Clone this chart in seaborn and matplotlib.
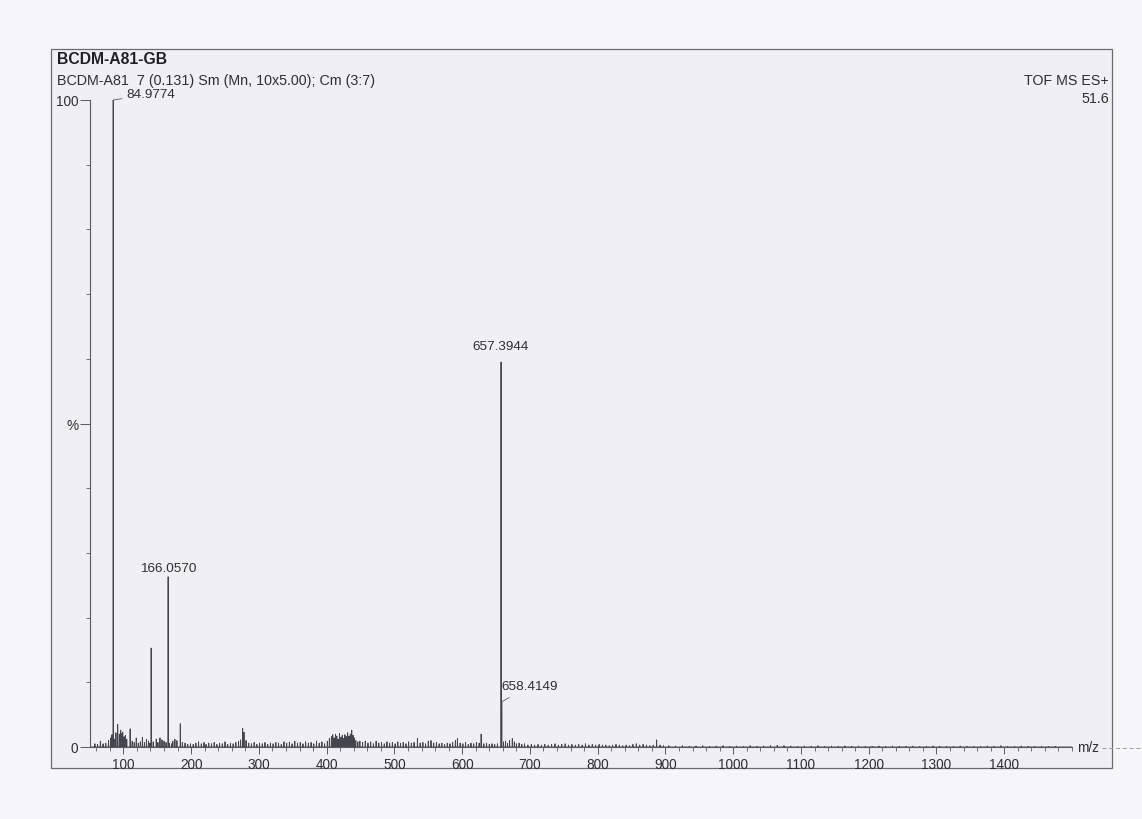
import matplotlib
matplotlib.use("Agg")
import matplotlib.pyplot as plt
from matplotlib.patches import Rectangle
from matplotlib.lines import Line2D
from matplotlib.ticker import MultipleLocator, FixedLocator
import numpy as np
import pandas as pd
import seaborn as sns

# ---- spectrum data (m/z, relative intensity %) ----
main_mz = [84.9774, 141.0, 166.0570, 657.3944, 658.4149]
main_pct = [100.0, 15.3, 26.3, 59.5, 7.0]

noise_mz = [
    58, 62, 66, 70, 74, 78, 81, 83, 87, 89, 91.6, 94, 96, 97.5, 99, 101, 103, 105,
    110, 113, 116, 119, 122, 125, 128, 131, 134, 137, 139, 144, 148.5, 151, 154,
    157, 160, 163, 168, 171, 173, 176, 179, 184, 187, 191, 195, 199,
    203, 207, 211, 215, 219, 222, 226, 230, 234, 238, 242, 246, 250, 254, 258,
    262, 266, 270, 273, 276, 278, 281, 285, 289, 293, 297, 301, 305, 309, 313,
    317, 321, 325, 329, 333, 337, 341, 345, 349, 353, 357, 361, 365, 369, 373,
    377, 381, 385, 389, 393, 397, 401,
    404, 407, 409, 411, 413, 415, 417, 419, 421, 423, 425, 427, 429, 431, 433,
    435, 437, 439, 441, 443, 446,
    449, 453, 457, 461, 465, 469, 473, 477, 481, 485, 489, 493, 497, 501, 505,
    509, 513, 517, 521, 525, 529, 534, 538, 542, 546, 550, 554, 558, 562, 566,
    570, 574, 578, 582, 586, 590, 593, 597, 601, 605, 609, 613, 617, 621, 625,
    628, 632, 636, 640, 644, 648, 652,
    661, 664, 667, 670, 674, 677, 680, 684, 688, 692, 697, 702, 707, 712, 717,
    722, 727, 732, 737, 742, 747, 752, 757, 762, 767, 772, 777, 782, 787, 792,
    797, 802, 807, 812, 817, 822, 827, 832, 837, 842, 847, 852, 857, 862, 867,
    872, 877, 882, 887, 892, 897,
    905, 915, 925, 935, 945, 955, 965, 975, 985, 995, 1005, 1015, 1025, 1035,
    1045, 1055, 1065, 1075, 1085, 1095, 1105, 1115, 1125, 1135, 1145, 1155,
    1165, 1175, 1185, 1195, 1205, 1215, 1225, 1235, 1245, 1255, 1265, 1275,
    1285, 1295, 1305, 1315, 1325, 1335, 1345, 1355, 1365, 1375, 1385, 1395,
    1405, 1415, 1425, 1435, 1445, 1455, 1465, 1475,
]
noise_pct = [
    0.5, 0.4, 0.9, 0.5, 0.6, 1.0, 1.4, 1.9, 1.2, 2.2, 3.5, 2.0, 2.6, 2.1, 2.3, 1.6, 1.8, 1.2,
    2.8, 0.9, 0.7, 1.4, 0.6, 0.8, 1.5, 0.7, 1.2, 0.9, 0.6, 0.8, 1.2, 0.7, 1.4,
    1.1, 0.9, 0.7, 0.6, 0.5, 0.9, 1.2, 1.0, 3.6, 0.7, 0.6, 0.4, 0.5,
    0.4, 0.6, 0.8, 0.5, 0.7, 0.4, 0.6, 0.5, 0.7, 0.4, 0.6, 0.5, 0.8, 0.4, 0.6,
    0.5, 0.7, 0.9, 1.1, 2.9, 2.3, 1.0, 0.6, 0.5, 0.7, 0.4, 0.6, 0.5, 0.7, 0.4,
    0.6, 0.5, 0.7, 0.6, 0.4, 0.8, 0.6, 0.7, 0.5, 0.9, 0.6, 0.7, 0.5, 0.8, 0.6,
    0.7, 0.5, 0.9, 0.6, 0.8, 0.5, 0.9,
    1.3, 1.6, 1.9, 1.4, 2.0, 1.7, 1.2, 2.1, 1.5, 1.8, 1.3, 1.9, 1.6, 2.2, 1.7,
    2.0, 2.6, 1.8, 1.4, 1.0, 0.8,
    0.9, 0.7, 0.9, 0.6, 0.8, 0.5, 0.9, 0.6, 0.7, 0.5, 0.8, 0.6, 0.7, 0.5, 0.8,
    0.6, 0.7, 0.5, 0.8, 0.6, 0.7, 1.3, 0.6, 0.7, 0.5, 0.9, 1.0, 0.6, 0.7, 0.5,
    0.6, 0.4, 0.6, 0.5, 0.7, 1.0, 1.3, 0.6, 0.5, 0.7, 0.4, 0.6, 0.5, 0.7, 0.6,
    2.0, 0.5, 0.6, 0.4, 0.5, 0.4, 0.5,
    0.8, 0.9, 0.6, 1.0, 1.3, 0.8, 0.5, 0.6, 0.4, 0.5, 0.3, 0.4, 0.3, 0.4, 0.3,
    0.4, 0.3, 0.4, 0.5, 0.3, 0.4, 0.5, 0.3, 0.4, 0.3, 0.4, 0.3, 0.5, 0.3, 0.4,
    0.3, 0.4, 0.3, 0.3, 0.2, 0.3, 0.4, 0.3, 0.2, 0.3, 0.2, 0.4, 0.5, 0.3, 0.4,
    0.3, 0.2, 0.3, 1.1, 0.3, 0.2,
    0.2, 0.15, 0.2, 0.1, 0.15, 0.2, 0.1, 0.15, 0.2, 0.1, 0.15, 0.1, 0.2, 0.1,
    0.15, 0.2, 0.25, 0.2, 0.15, 0.1, 0.15, 0.1, 0.2, 0.1, 0.15, 0.1,
    0.15, 0.1, 0.15, 0.1, 0.1, 0.15, 0.1, 0.15, 0.1, 0.1, 0.15, 0.1,
    0.1, 0.15, 0.1, 0.1, 0.1, 0.15, 0.1, 0.1, 0.1, 0.15, 0.1, 0.2,
    0.1, 0.1, 0.15, 0.1, 0.1, 0.1, 0.1, 0.1,
]

x_major = [100, 200, 300, 400, 500, 600, 700, 800, 900, 1000, 1100, 1200, 1300, 1400]
x_range = (50, 1500)

title_text = "BCDM-A81-GB"
subtitle_text = "BCDM-A81  7 (0.131) Sm (Mn, 10x5.00); Cm (3:7)"
mode_text = "TOF MS ES+"
scale_text = "51.6"

# ---- build a stick/profile trace from the peak list ----
peaks = pd.DataFrame({"mz": main_mz + noise_mz, "pct": main_pct + noise_pct})
peaks = peaks.sort_values("mz").reset_index(drop=True)
half = 0.3
rows = [(x_range[0], 0.0)]
for m, p in zip(peaks["mz"], peaks["pct"]):
    rows += [(m - half, 0.0), (m, p), (m + half, 0.0)]
rows.append((x_range[1], 0.0))
trace = pd.DataFrame(rows, columns=["mz", "pct"])

# ---- styling ----
sns.set_theme(style="white")
plt.rcParams["font.family"] = ["Liberation Sans", "DejaVu Sans"]
ink = "#45454d"
axis_ink = "#5a5a62"
text_ink = "#2e2e36"

W, H = 1142, 820
fig = plt.figure(figsize=(W / 100, H / 100), dpi=100, facecolor="#f6f6f9")

def fx(px):
    return px / W

def fy(py):
    return 1 - py / H

# page frame around the spectrum (kept behind the axes)
fig.patches.append(Rectangle((fx(51), fy(769)), fx(1112) - fx(51), fy(50) - fy(769),
                             transform=fig.transFigure, facecolor="#efeff5",
                             edgecolor="#6a6a72", linewidth=0.9, zorder=-5))
# faint ruled continuation of the baseline beyond the axis caption
fig.lines.append(Line2D([fx(1102), fx(1142)], [fy(749), fy(749)],
                        transform=fig.transFigure, color="#9a9aa2",
                        linewidth=0.7, linestyle=(0, (4, 3)), zorder=-4))

ax = fig.add_axes([fx(89.5), fy(748), fx(1072) - fx(89.5), fy(101) - fy(748)])
ax.set_facecolor("none")
ax.set_zorder(2)

sns.lineplot(data=trace, x="mz", y="pct", estimator=None, sort=False,
             color=ink, linewidth=0.65, ax=ax)

ax.set_xlim(*x_range)
ax.set_ylim(0, 100)
ax.set_xlabel("")
ax.set_ylabel("")

for side in ("top", "right"):
    ax.spines[side].set_visible(False)
for side in ("left", "bottom"):
    ax.spines[side].set_color(axis_ink)
    ax.spines[side].set_linewidth(0.8)

ax.xaxis.set_major_locator(FixedLocator(x_major))
ax.xaxis.set_minor_locator(MultipleLocator(20))
ax.set_xticklabels([str(v) for v in x_major])
ax.yaxis.set_major_locator(FixedLocator([0, 50, 100]))
ax.set_yticklabels(["0", "%", "100"])
ax.yaxis.set_minor_locator(MultipleLocator(10))
ax.tick_params(axis="both", which="major", direction="out", length=5, width=0.7,
               color=axis_ink, labelsize=9.8, labelcolor=text_ink, pad=2,
               bottom=True, left=True)
ax.tick_params(axis="both", which="minor", direction="out", length=3, width=0.6,
               color=axis_ink, bottom=True, left=True)
ax.tick_params(axis="y", which="major", length=7, pad=1)

# axis caption at the end of the m/z axis
ax.text(1.005, 0.0, "m/z", transform=ax.transAxes, ha="left", va="center",
        fontsize=9.8, color=text_ink)

# peak annotations
lab = dict(fontsize=9.7, color=text_ink)
ax.annotate("84.9774", xy=(main_mz[0], main_pct[0]), xytext=(105, 100.9),
            ha="left", va="center", annotation_clip=False,
            arrowprops=dict(arrowstyle="-", color=axis_ink, lw=0.6,
                            shrinkA=1, shrinkB=0), **lab)
ax.text(main_mz[2], main_pct[2] + 0.4, "166.0570", ha="center", va="bottom", **lab)
ax.text(main_mz[3], main_pct[3] + 1.5, "657.3944", ha="center", va="bottom", **lab)
ax.annotate("658.4149", xy=(main_mz[4], main_pct[4]), xytext=(658.0, 9.4),
            ha="left", va="center", annotation_clip=False,
            arrowprops=dict(arrowstyle="-", color=axis_ink, lw=0.6,
                            shrinkA=3, shrinkB=0), **lab)

# header text
fig.text(fx(57), fy(59), title_text, ha="left", va="center", fontsize=11.3,
         fontweight="bold", color="#202028")
fig.text(fx(57), fy(81), subtitle_text, ha="left", va="center", fontsize=10.3,
         color=text_ink)
fig.text(fx(1109), fy(81), mode_text, ha="right", va="center", fontsize=10.3,
         color=text_ink)
fig.text(fx(1109), fy(99), scale_text, ha="right", va="center", fontsize=10.3,
         color=text_ink)

fig.savefig("out.png", dpi=100, facecolor=fig.get_facecolor())
